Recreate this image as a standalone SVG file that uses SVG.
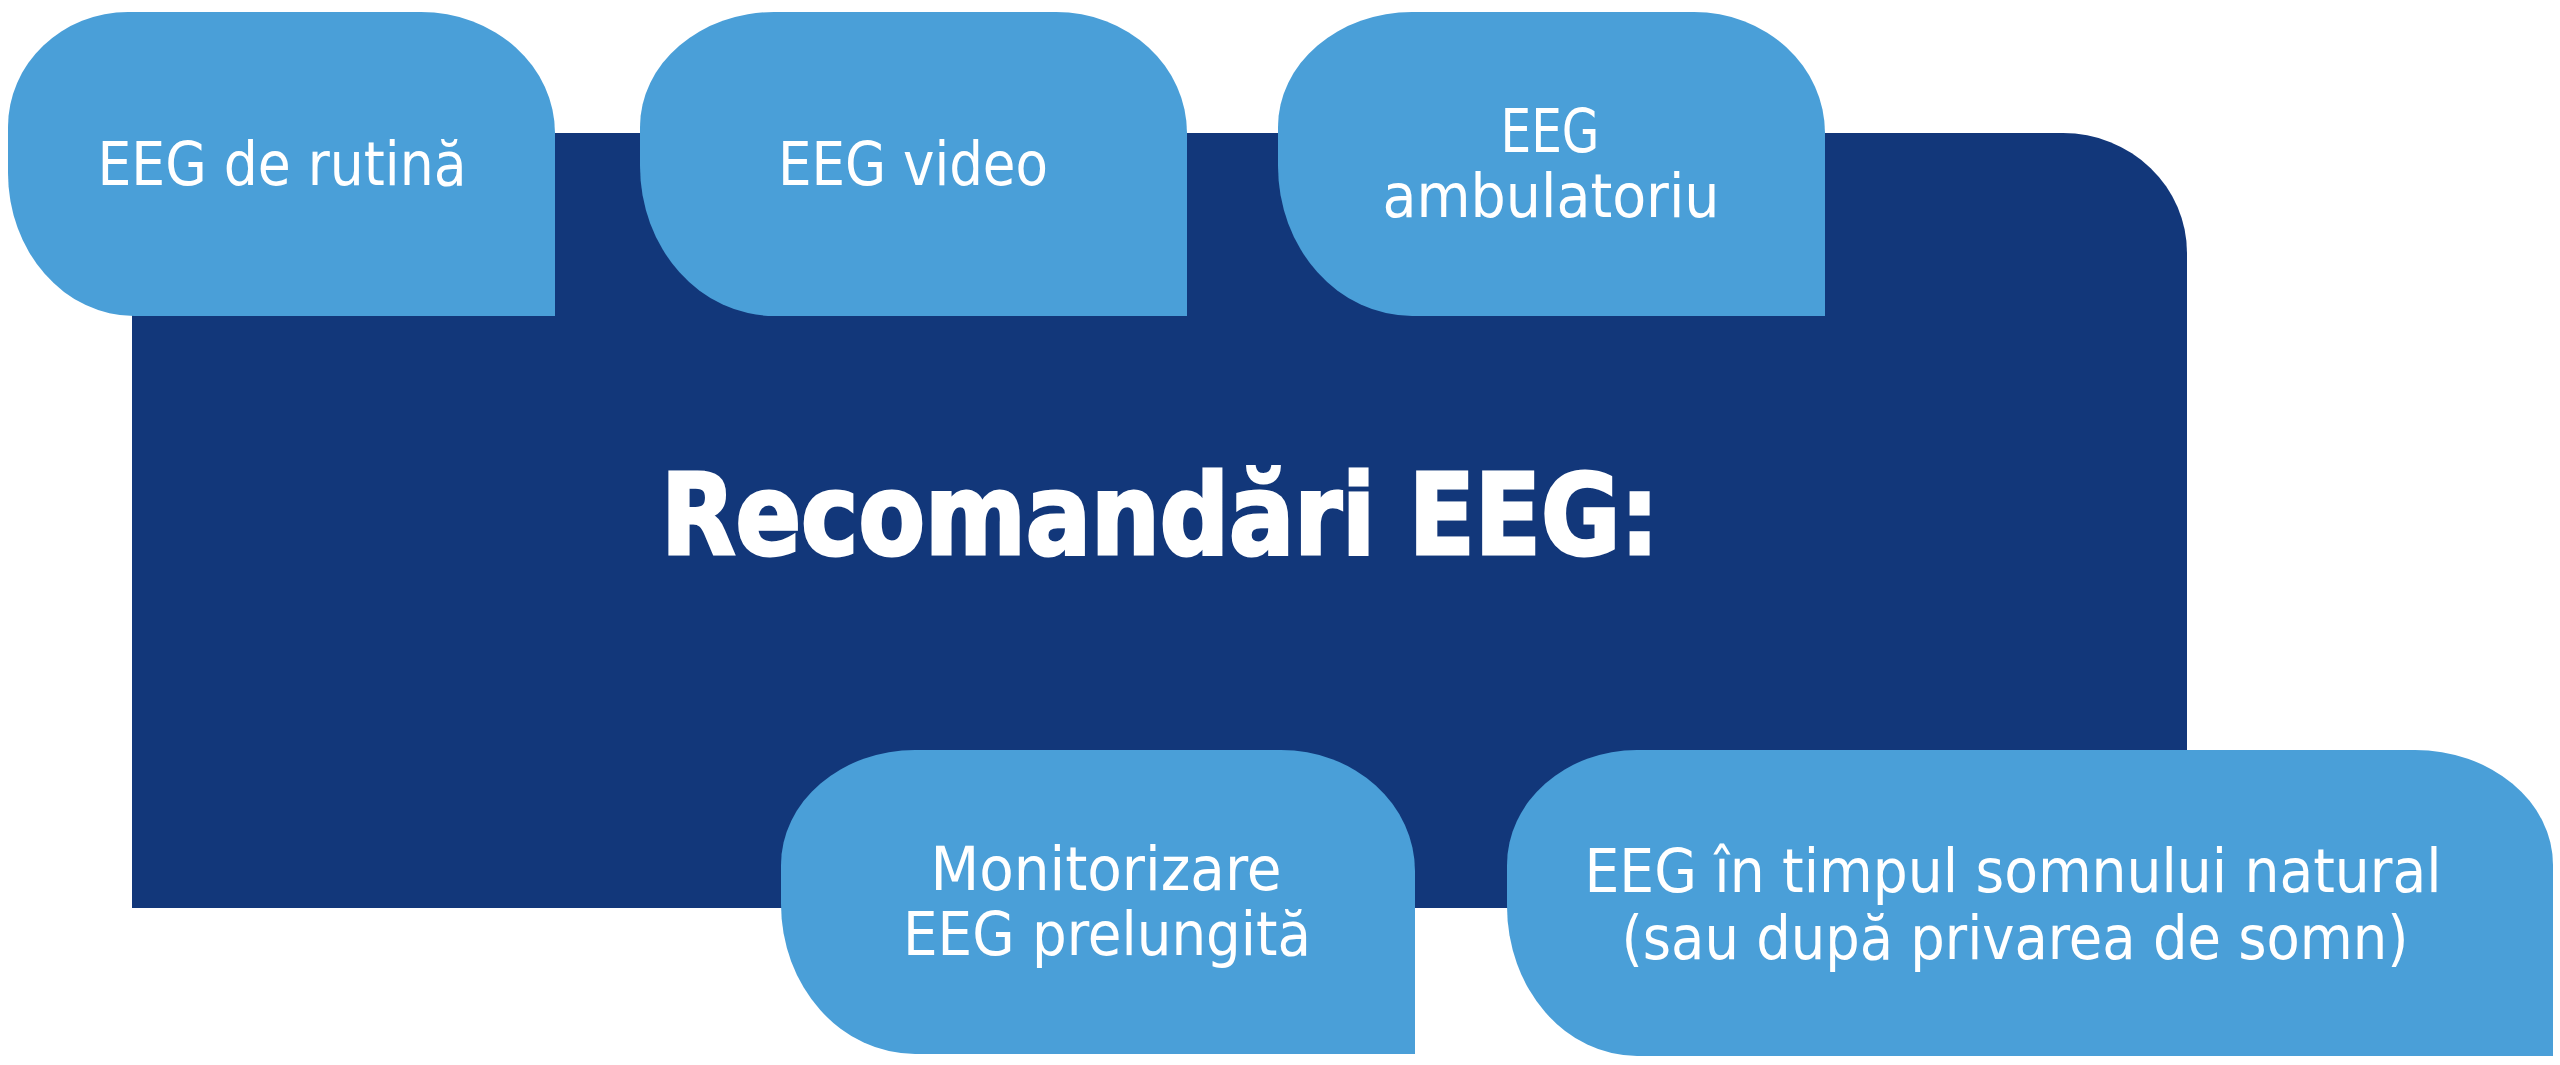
<svg xmlns="http://www.w3.org/2000/svg" width="2560" height="1065" viewBox="0 0 2560 1065">
<style>
.dark{fill:#12377A}
.box{fill:#4A9FD8}
.lbl{font-family:"DejaVu Sans Condensed","DejaVu Sans","Liberation Sans",sans-serif;font-size:60px;fill:#FFFFFF;text-anchor:middle}
.title{font-family:"DejaVu Sans Condensed","DejaVu Sans","Liberation Sans",sans-serif;font-size:112px;font-weight:bold;fill:#FFFFFF;stroke:#FFFFFF;stroke-width:3px;text-anchor:middle}
</style>
<rect width="2560" height="1065" fill="#FFFFFF"/>
<g id="main">
<path class="dark" d="M132,133 H2063 A124 120 0 0 1 2187,253 V908 H132 Z"/>
<text class="title" x="1160" y="554" textLength="998" lengthAdjust="spacingAndGlyphs">Recomandări EEG:</text>
</g>
<g id="connectors"></g>
<g id="n1">
<path class="box" d="M128,12 H421 A134 121 0 0 1 555,133 V316 H134 A126 143 0 0 1 8,173 V127 A120 115 0 0 1 128,12 Z"/>
<text class="lbl" x="282" y="185" textLength="369" lengthAdjust="spacingAndGlyphs">EEG de rutină</text>
</g>
<g id="n2">
<path class="box" d="M774,12 H1056 A131 121 0 0 1 1187,133 V316 H774 A134 150 0 0 1 640,166 V127 A134 115 0 0 1 774,12 Z"/>
<text class="lbl" x="913" y="185" textLength="270" lengthAdjust="spacingAndGlyphs">EEG video</text>
</g>
<g id="n3">
<path class="box" d="M1412,12 H1694 A131 121 0 0 1 1825,133 V316 H1412 A134 150 0 0 1 1278,166 V127 A134 115 0 0 1 1412,12 Z"/>
<text class="lbl" x="1550" y="152" textLength="99" lengthAdjust="spacingAndGlyphs">EEG</text>
<text class="lbl" x="1551" y="217" textLength="337" lengthAdjust="spacingAndGlyphs">ambulatoriu</text>
</g>
<g id="n4">
<path class="box" d="M915,750 H1281 A134 121 0 0 1 1415,871 V1054 H915 A134 150 0 0 1 781,904 V865 A134 115 0 0 1 915,750 Z"/>
<text class="lbl" x="1106" y="890" textLength="351" lengthAdjust="spacingAndGlyphs">Monitorizare</text>
<text class="lbl" x="1107" y="955" textLength="408" lengthAdjust="spacingAndGlyphs">EEG prelungită</text>
</g>
<g id="n5">
<path class="box" d="M1637,750 H2415 A138 115 0 0 1 2553,865 V1056 H1637 A130 150 0 0 1 1507,906 V865 A130 115 0 0 1 1637,750 Z"/>
<text class="lbl" x="2013" y="892" textLength="857" lengthAdjust="spacingAndGlyphs">EEG în timpul somnului natural</text>
<text class="lbl" x="2015" y="959" textLength="787" lengthAdjust="spacingAndGlyphs">(sau după privarea de somn)</text>
</g>
</svg>
